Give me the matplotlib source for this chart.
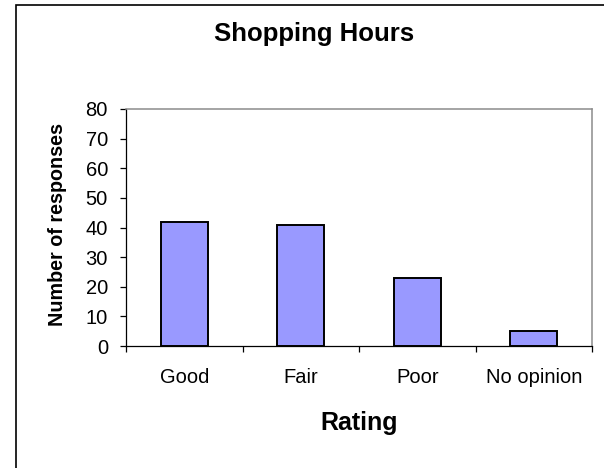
import matplotlib
matplotlib.use("Agg")
import matplotlib.pyplot as plt
from matplotlib.patches import Rectangle
from matplotlib.ticker import FixedLocator

# data
ratings = ["Good", "Fair", "Poor", "No opinion"]
responses = [42, 41, 23, 5]
y_ticks = [0, 10, 20, 30, 40, 50, 60, 70, 80]

title = "Shopping Hours"
x_title = "Rating"
y_title = "Number of responses"

plt.rcParams["font.family"] = ["Liberation Sans", "DejaVu Sans"]

W, H = 604, 468
fig = plt.figure(figsize=(W / 100, H / 100), dpi=100)
fig.patch.set_facecolor("white")

# plot area in pixel coords from the reference
left, right, top, bottom = 126, 592, 109, 346
ax = fig.add_axes([left / W, 1 - bottom / H, (right - left) / W, (bottom - top) / H])

pos = list(range(len(ratings)))
ax.bar(pos, responses, width=0.4, color="#9999FF", edgecolor="black", linewidth=1.4, zorder=3)

ax.set_xlim(-0.5, len(ratings) - 0.5)
ax.set_ylim(0, 80)

ax.set_yticks(y_ticks)
ax.tick_params(axis="y", direction="out", length=4.5, width=0.9, color="black",
               labelsize=14.5, pad=8.5)
ax.set_xticks(pos)
ax.set_xticklabels(ratings)
ax.tick_params(axis="x", which="major", length=0, labelsize=14.5, pad=16)
# category boundary ticks
ax.xaxis.set_minor_locator(FixedLocator([p - 0.5 for p in range(len(ratings) + 1)]))
ax.tick_params(axis="x", which="minor", direction="out", length=4, width=0.9, color="black")

for side in ("top", "right"):
    ax.spines[side].set_color("#8c8c8c")
    ax.spines[side].set_linewidth(1.1)
for side in ("left", "bottom"):
    ax.spines[side].set_color("black")
    ax.spines[side].set_linewidth(0.9)

fig.text(314.5 / W, 1 - 41.5 / H, title, ha="center", va="baseline",
         fontsize=18.5, fontweight="bold")
fig.text(359 / W, 1 - 430 / H, x_title, ha="center", va="baseline",
         fontsize=18, fontweight="bold")
fig.text(57.5 / W, 1 - 224 / H, y_title, ha="center", va="center", rotation=90,
         fontsize=14.2, fontweight="bold")

# chart area border, cropped at right and bottom in the reference
fig.add_artist(Rectangle((16 / W, -0.1), 1.2, 1.1 - 5 / H, transform=fig.transFigure,
                         fill=False, edgecolor="black", linewidth=1.2))

fig.savefig("out.png", dpi=100)
